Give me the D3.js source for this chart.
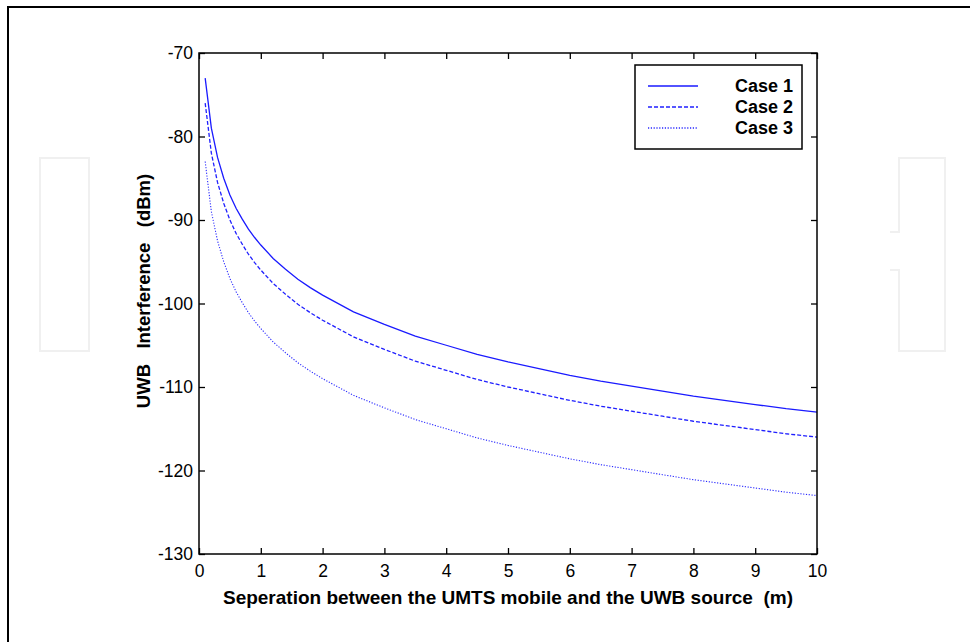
<!DOCTYPE html>
<html><head><meta charset="utf-8">
<script src="https://cdn.jsdelivr.net/npm/d3@7/dist/d3.min.js"></script>
<style>body{margin:0;background:#fff}svg{display:block}</style>
</head><body>
<script>
const distances = [0.1,0.2,0.3,0.4,0.5,0.6,0.7,0.8,0.9,1.0,1.2,1.4,1.6,1.8,2.0,2.5,3.0,3.5,4.0,4.5,5.0,5.5,6.0,6.5,7.0,7.5,8.0,8.5,9.0,9.5,10];
const case1 = [-73.0,-79.0,-82.5,-85.0,-87.0,-88.6,-89.9,-91.1,-92.1,-93.0,-94.6,-95.9,-97.1,-98.1,-99.0,-101.0,-102.5,-103.9,-105.0,-106.1,-107.0,-107.8,-108.6,-109.3,-109.9,-110.5,-111.1,-111.6,-112.1,-112.6,-113.0];
const case2 = [-76.0,-82.0,-85.5,-88.0,-90.0,-91.6,-92.9,-94.1,-95.1,-96.0,-97.6,-98.9,-100.1,-101.1,-102.0,-104.0,-105.5,-106.9,-108.0,-109.1,-110.0,-110.8,-111.6,-112.3,-112.9,-113.5,-114.1,-114.6,-115.1,-115.6,-116.0];
const case3 = [-83.0,-89.0,-92.5,-95.0,-97.0,-98.6,-99.9,-101.1,-102.1,-103.0,-104.6,-105.9,-107.1,-108.1,-109.0,-111.0,-112.5,-113.9,-115.0,-116.1,-117.0,-117.8,-118.6,-119.3,-119.9,-120.5,-121.1,-121.6,-122.1,-122.6,-123.0];
const seriesNames = ["Case 1","Case 2","Case 3"];
const xTicks = [0,1,2,3,4,5,6,7,8,9,10];
const yTicks = [-70,-80,-90,-100,-110,-120,-130];
const xLabel = "Seperation between the UMTS mobile and the UWB source  (m)";
const yLabel = "UWB   Interference   (dBm)";

const W = 970, H = 642;
const svg = d3.select("body").append("svg").attr("width", W).attr("height", H);

// outer frame
svg.append("rect").attr("x", 8).attr("y", 7).attr("width", 1000).attr("height", 700)
  .attr("fill", "none").attr("stroke", "#000").attr("stroke-width", 2);

// faint watermark shapes
const wm = svg.append("g").attr("fill", "none").attr("stroke", "#f0f0f0").attr("stroke-width", 2);
wm.append("rect").attr("x", 40).attr("y", 158).attr("width", 49).attr("height", 193);
wm.append("path").attr("d", "M890,232 H899 V158 H945 V351 H899 V270 H890");

const L = 199, R = 817, T = 53, B = 554;
const x = d3.scaleLinear().domain([0, 10]).range([L, R]);
const y = d3.scaleLinear().domain([-130, -70]).range([B, T]);

const font = "'Liberation Sans', Arial, sans-serif";
const axisG = svg.append("g").attr("font-family", font);
const fmt = d => String(d);

function styleAxis(g, hideText) {
  g.select(".domain").remove();
  g.selectAll(".tick line").attr("stroke", "#000").attr("stroke-width", 1.3);
  g.selectAll(".tick text").attr("font-size", 17.5).attr("font-family", font).attr("fill", "#000");
  if (hideText) g.selectAll(".tick text").remove();
}
axisG.append("g").attr("transform", `translate(0,${B})`)
  .call(d3.axisBottom(x).tickValues(xTicks).tickSizeInner(-6).tickSizeOuter(0).tickPadding(11).tickFormat(fmt))
  .call(g => styleAxis(g, false));
axisG.append("g").attr("transform", `translate(0,${T})`)
  .call(d3.axisTop(x).tickValues(xTicks).tickSizeInner(-6).tickSizeOuter(0))
  .call(g => styleAxis(g, true));
axisG.append("g").attr("transform", `translate(${L},0)`)
  .call(d3.axisLeft(y).tickValues(yTicks).tickSizeInner(-6).tickSizeOuter(0).tickPadding(6).tickFormat(fmt))
  .call(g => styleAxis(g, false));
axisG.append("g").attr("transform", `translate(${R},0)`)
  .call(d3.axisRight(y).tickValues(yTicks).tickSizeInner(-6).tickSizeOuter(0))
  .call(g => styleAxis(g, true));

// lines
const series = [case1, case2, case3];
const dashes = [null, "4,2", "1.2,1.6"];
const widths = [1.3, 1.3, 1.1];
const colors = ["#1a1aff", "#2020ff", "#2a2aff"];
const line = d3.line().x((d) => x(d[0])).y((d) => y(d[1]));
series.forEach((s, i) => {
  svg.append("path").datum(distances.map((d, j) => [d, s[j]]))
    .attr("d", line).attr("fill", "none").attr("stroke", colors[i])
    .attr("stroke-width", widths[i]).attr("stroke-dasharray", dashes[i]);
});

// plot box
svg.append("rect").attr("x", L).attr("y", T).attr("width", R - L).attr("height", B - T)
  .attr("fill", "none").attr("stroke", "#000").attr("stroke-width", 1.5);

// legend
const lg = svg.append("g");
lg.append("rect").attr("x", 635).attr("y", 65).attr("width", 167).attr("height", 84)
  .attr("fill", "#fff").attr("stroke", "#000").attr("stroke-width", 1.5);
const legY = [86, 107, 128];
seriesNames.forEach((n, i) => {
  lg.append("line").attr("x1", 648).attr("x2", 698).attr("y1", legY[i]).attr("y2", legY[i])
    .attr("stroke", colors[i]).attr("stroke-width", widths[i] + 0.3).attr("stroke-dasharray", dashes[i]);
  lg.append("text").attr("x", 793).attr("y", legY[i]).attr("dy", "0.36em")
    .attr("text-anchor", "end").attr("font-family", font).attr("font-weight", "bold")
    .attr("font-size", 18).text(n);
});

// axis labels
svg.append("text").attr("x", 508).attr("y", 604).attr("text-anchor", "middle")
  .attr("font-family", font).attr("font-weight", "bold").attr("font-size", 19)
  .style("white-space", "pre").text(xLabel);
svg.append("text").attr("transform", "translate(150,291) rotate(-90)").attr("text-anchor", "middle")
  .attr("font-family", font).attr("font-weight", "bold").attr("font-size", 18.5)
  .style("white-space", "pre").text(yLabel);
</script>
</body></html>
